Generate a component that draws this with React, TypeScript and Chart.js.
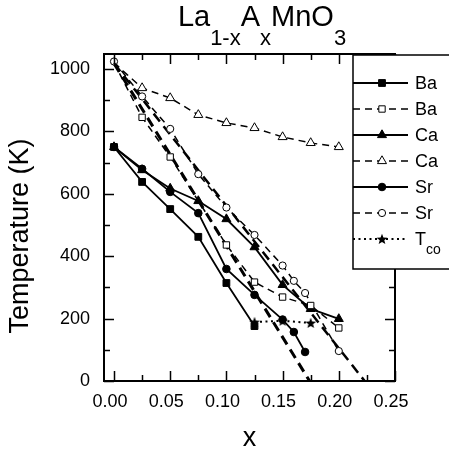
import React, { useEffect, useRef } from 'react';
import { Chart, registerables } from 'chart.js';

Chart.register(...registerables);

const FONT = '"Liberation Sans", Arial, Helvetica, sans-serif';

// ---- data (x = composition, T in K) ----
const X_BA_SOLID = [0, 0.025, 0.05, 0.075, 0.1, 0.125];
const T_BA_SOLID = [750, 638, 551, 462, 314, 176];

const X_BA_DASH = [0, 0.025, 0.05, 0.1, 0.125, 0.15, 0.175, 0.2];
const T_BA_DASH = [1020, 845, 718, 436, 317, 269, 242, 170];

const X_CA_SOLID = [0, 0.025, 0.05, 0.075, 0.1, 0.125, 0.15, 0.175, 0.2];
const T_CA_SOLID = [750, 676, 617, 577, 519, 429, 308, 231, 199];

const X_CA_DASH = [0, 0.025, 0.05, 0.075, 0.1, 0.125, 0.15, 0.175, 0.2];
const T_CA_DASH = [1020, 939, 907, 853, 827, 811, 782, 763, 750];

const X_SR_SOLID = [0, 0.025, 0.05, 0.075, 0.1, 0.125, 0.15, 0.16, 0.17];
const T_SR_SOLID = [750, 680, 606, 538, 359, 276, 197, 157, 93];

const X_SR_DASH = [0, 0.025, 0.05, 0.075, 0.1, 0.125, 0.15, 0.16, 0.17, 0.2];
const T_SR_DASH = [1024, 912, 808, 663, 556, 468, 370, 321, 282, 96];

const X_TCO = [0.125, 0.15, 0.175];
const T_TCO = [189, 193, 186];

const X_FIT_A = [0, 0.174];
const T_FIT_A = [1018, 0];
const X_FIT_B = [0, 0.223];
const T_FIT_B = [1018, 0];

const LEGEND_LABELS = ['Ba', 'Ba', 'Ca', 'Ca', 'Sr', 'Sr', 'T'];
const LEGEND_SUBS = ['', '', '', '', '', '', 'co'];

const X_TICKS = [0, 0.05, 0.1, 0.15, 0.2, 0.25];
const X_MINOR = [0.025, 0.075, 0.125, 0.175, 0.225];
const Y_TICKS = [0, 200, 400, 600, 800, 1000];
const Y_MINOR = [100, 300, 500, 700, 900];

const TITLE_PARTS: [string, number][] = [['La', 0], ['1-x', 1], ['A', 0], ['x', 1], ['MnO', 0], ['3', 1]];
const Y_TITLE = 'Temperature (K)';
const X_TITLE = 'x';

const pts = (xs: number[], ts: number[]) => xs.map((x, i) => ({ x, y: ts[i] }));

function makeStar(size: number) {
  const c = document.createElement('canvas');
  c.width = size;
  c.height = size;
  const g = c.getContext('2d')!;
  const cx = size / 2, cy = size / 2 + 0.5, R = size / 2 - 0.3, r = R * 0.42;
  g.beginPath();
  for (let i = 0; i < 10; i++) {
    const rad = i % 2 === 0 ? R : r;
    const a = -Math.PI / 2 + (i * Math.PI) / 5;
    const px = cx + rad * Math.cos(a), py = cy + rad * Math.sin(a);
    if (i === 0) g.moveTo(px, py); else g.lineTo(px, py);
  }
  g.closePath();
  g.fillStyle = '#000';
  g.fill();
  return c;
}

function drawMarker(ctx: CanvasRenderingContext2D, style: any, x: number, y: number, r: number, fill: string) {
  ctx.save();
  ctx.setLineDash([]);
  ctx.lineWidth = 1;
  ctx.fillStyle = fill;
  ctx.strokeStyle = '#000';
  if (typeof style !== 'string') {
    ctx.drawImage(style, x - style.width / 2, y - style.height / 2);
    ctx.restore();
    return;
  }
  ctx.beginPath();
  if (style === 'rect') {
    const s = r * Math.SQRT1_2;
    ctx.rect(x - s, y - s, 2 * s, 2 * s);
  } else if (style === 'triangle') {
    for (let k = 0; k < 3; k++) {
      const a = (k * 2 * Math.PI) / 3;
      const px = x + Math.sin(a) * r, py = y - Math.cos(a) * r;
      if (k === 0) ctx.moveTo(px, py); else ctx.lineTo(px, py);
    }
    ctx.closePath();
  } else {
    ctx.arc(x, y, r, 0, Math.PI * 2);
  }
  ctx.fill();
  ctx.stroke();
  ctx.restore();
}

const decorPlugin = {
  id: 'decor',
  afterDraw(chart: any) {
    const { ctx, chartArea: a, scales } = chart;
    const xs = scales.x, ys = scales.y;
    ctx.save();
    ctx.strokeStyle = '#000';
    ctx.setLineDash([]);
    // ticks
    ctx.lineWidth = 1.5;
    const tickX = (vals: number[], len: number) => {
      for (const v of vals) {
        const p = Math.round(xs.getPixelForValue(v)) + 0.5;
        ctx.beginPath();
        ctx.moveTo(p, a.bottom); ctx.lineTo(p, a.bottom - len);
        ctx.moveTo(p, a.top); ctx.lineTo(p, a.top + len);
        ctx.stroke();
      }
    };
    const tickY = (vals: number[], len: number) => {
      for (const v of vals) {
        const p = Math.round(ys.getPixelForValue(v)) + 0.5;
        ctx.beginPath();
        ctx.moveTo(a.left, p); ctx.lineTo(a.left + len, p);
        ctx.moveTo(a.right, p); ctx.lineTo(a.right - len, p);
        ctx.stroke();
      }
    };
    tickX(X_TICKS, 10); tickX(X_MINOR, 6);
    tickY(Y_TICKS, 10); tickY(Y_MINOR, 6);
    // frame
    ctx.lineWidth = 2;
    ctx.strokeRect(a.left, a.top, a.right - a.left, a.bottom - a.top);

    // legend box
    const bx = 353, by = 55, bb = 269;
    ctx.fillStyle = '#fff';
    ctx.fillRect(bx, by, 120, bb - by);
    ctx.lineWidth = 1.5;
    ctx.strokeRect(bx, by, 120, bb - by);
    ctx.lineWidth = 2;
    ctx.beginPath();
    ctx.moveTo(bx, a.top); ctx.lineTo(a.right + 1, a.top);
    ctx.stroke();

    const dsets = chart.data.datasets;
    for (let i = 0; i < LEGEND_LABELS.length; i++) {
      const d = dsets[i];
      const yy = 83 + i * 26;
      ctx.save();
      ctx.strokeStyle = '#000';
      ctx.lineWidth = d.borderWidth;
      ctx.setLineDash(d.borderDash || []);
      ctx.beginPath();
      ctx.moveTo(bx, yy); ctx.lineTo(408, yy);
      ctx.stroke();
      ctx.restore();
      const r = Array.isArray(d.pointRadius) ? d.pointRadius[d.pointRadius.length - 1] : d.pointRadius;
      drawMarker(ctx, d.pointStyle, 382, yy, r, d.pointBackgroundColor);
      ctx.fillStyle = '#000';
      ctx.font = `18px ${FONT}`;
      ctx.textAlign = 'left';
      ctx.textBaseline = 'middle';
      ctx.fillText(LEGEND_LABELS[i], 415, yy + 1);
      if (LEGEND_SUBS[i]) {
        const w = ctx.measureText(LEGEND_LABELS[i]).width;
        ctx.font = `14px ${FONT}`;
        ctx.textBaseline = 'alphabetic';
        ctx.fillText(LEGEND_SUBS[i], 415 + w, yy + 15);
      }
    }

    // chart title with subscripts
    ctx.fillStyle = '#000';
    ctx.textAlign = 'left';
    ctx.textBaseline = 'alphabetic';
    const mainF = `29px ${FONT}`, subF = `22px ${FONT}`;
    let total = 0;
    for (const [t, s] of TITLE_PARTS) { ctx.font = s ? subF : mainF; total += ctx.measureText(t).width; }
    let cx = 262 - total / 2;
    for (const [t, s] of TITLE_PARTS) {
      ctx.font = s ? subF : mainF;
      ctx.fillText(t, cx, s ? 45 : 26);
      cx += ctx.measureText(t).width;
    }

    // axis titles
    ctx.font = `27px ${FONT}`;
    ctx.textAlign = 'center';
    ctx.fillText(X_TITLE, (a.left + a.right) / 2, 446);
    ctx.save();
    ctx.translate(28, 236);
    ctx.rotate(-Math.PI / 2);
    ctx.fillText(Y_TITLE, 0, 0);
    ctx.restore();
    ctx.restore();
  },
};

export default function App() {
  const ref = useRef<HTMLCanvasElement>(null);
  useEffect(() => {
    document.body.style.margin = '0';
    const star = makeStar(12);
    const solid = { borderColor: '#000', borderWidth: 1.8, tension: 0, pointBorderColor: '#000', pointBorderWidth: 1, pointBackgroundColor: '#000' };
    const dashed = { borderColor: '#000', borderWidth: 1.5, borderDash: [7, 5], tension: 0, pointBorderColor: '#000', pointBorderWidth: 1, pointBackgroundColor: '#fff' };
    const chart = new Chart(ref.current!, {
      type: 'line',
      data: {
        datasets: [
          { ...solid, label: 'Ba', data: pts(X_BA_SOLID, T_BA_SOLID), pointStyle: 'rect', pointRadius: 4.8 },
          { ...dashed, label: 'Ba', data: pts(X_BA_DASH, T_BA_DASH), pointStyle: 'rect', pointRadius: X_BA_DASH.map((_, i) => (i === 0 ? 0 : 4.5)) },
          { ...solid, label: 'Ca', data: pts(X_CA_SOLID, T_CA_SOLID), pointStyle: 'triangle', pointRadius: 5.2 },
          { ...dashed, label: 'Ca', data: pts(X_CA_DASH, T_CA_DASH), pointStyle: 'triangle', pointRadius: X_CA_DASH.map((_, i) => (i === 0 ? 0 : 5.2)) },
          { ...solid, label: 'Sr', data: pts(X_SR_SOLID, T_SR_SOLID), pointStyle: 'circle', pointRadius: 3.8 },
          { ...dashed, label: 'Sr', data: pts(X_SR_DASH, T_SR_DASH), pointStyle: 'circle', pointRadius: 3.6 },
          { borderColor: '#000', borderWidth: 2, borderDash: [2, 3.5], tension: 0, label: 'Tco', data: pts(X_TCO, T_TCO), pointStyle: star, pointRadius: 6, pointBackgroundColor: '#000', pointBorderColor: '#000' },
          { borderColor: '#000', borderWidth: 3, borderDash: [10, 6], tension: 0, label: 'fitA', data: pts(X_FIT_A, T_FIT_A), pointRadius: 0 },
          { borderColor: '#000', borderWidth: 2.5, borderDash: [10, 6], tension: 0, label: 'fitB', data: pts(X_FIT_B, T_FIT_B), pointRadius: 0 },
        ] as any,
      },
      options: {
        responsive: false,
        animation: false,
        devicePixelRatio: 1,
        layout: { padding: { left: 0, top: 54, right: 54, bottom: 0 } },
        plugins: { legend: { display: false }, tooltip: { enabled: false }, title: { display: false } },
        scales: {
          x: {
            type: 'linear',
            min: -0.0089,
            max: 0.25,
            afterBuildTicks: (s: any) => { s.ticks = X_TICKS.map((v) => ({ value: v })); },
            afterFit: (s: any) => { s.height = 76; },
            grid: { display: false, drawTicks: false, tickLength: 0 },
            border: { display: false },
            ticks: {
              padding: 10,
              labelOffset: -4,
              autoSkip: false,
              maxRotation: 0,
              color: '#000',
              font: { size: 18, family: FONT },
              callback: (v: any) => Number(v).toFixed(2),
            },
          },
          y: {
            type: 'linear',
            min: 0,
            max: 1048,
            afterBuildTicks: (s: any) => { s.ticks = Y_TICKS.map((v) => ({ value: v })); },
            afterFit: (s: any) => { s.width = 104; },
            grid: { display: false, drawTicks: false, tickLength: 0 },
            border: { display: false },
            ticks: {
              padding: 14,
              color: '#000',
              font: { size: 18, family: FONT },
              callback: (v: any) => String(v),
            },
          },
        },
      } as any,
      plugins: [decorPlugin],
    });
    return () => chart.destroy();
  }, []);
  return (
    <div style={{ position: 'absolute', left: 0, top: 0, width: 449, height: 457, background: '#fff' }}>
      <canvas ref={ref} width={449} height={457} style={{ display: 'block', width: 449, height: 457 }} />
    </div>
  );
}
